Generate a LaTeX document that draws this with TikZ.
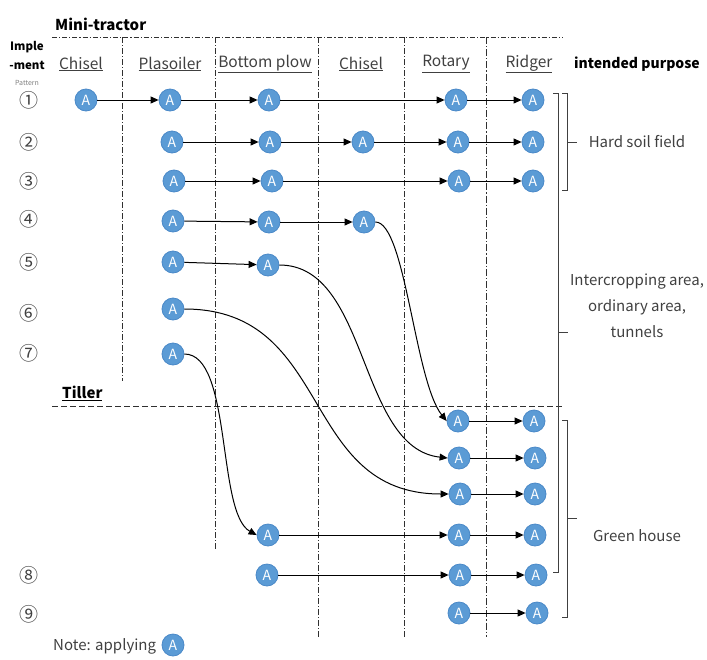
\documentclass[tikz,border=0pt]{standalone}
\usepackage{fontspec}
\setmainfont{Noto Sans CJK JP}
\usetikzlibrary{arrows.meta}

\definecolor{nodeblue}{HTML}{5B9BD5}
\definecolor{nodeedge}{HTML}{4A89C8}
\definecolor{txtgray}{HTML}{404040}
\definecolor{gridgray}{HTML}{303030}

\tikzset{
  app/.style={circle, fill=nodeblue, draw=nodeedge, line width=0.8pt,
    minimum size=22pt, inner sep=0pt, text=white,
    font=\fontsize{14}{14}\selectfont},
  flow/.style={-{Triangle[length=8pt,width=7pt]}, line width=1pt, black},
  colhead/.style={text=txtgray, font=\fontsize{15.5}{18}\selectfont, inner sep=0pt},
  boldhead/.style={text=black, font=\fontsize{15}{18}\selectfont\bfseries, inner sep=0pt},
  rownum/.style={text=txtgray, font=\fontsize{19}{20}\selectfont, inner sep=0pt},
  purpose/.style={text=txtgray, font=\fontsize{15}{26}\selectfont, align=center, inner sep=0pt},
  colsep/.style={gridgray, line width=0.6pt, dash pattern=on 6pt off 2pt on 1pt off 2pt},
  colsepheavy/.style={gridgray, line width=0.9pt, dash pattern=on 7pt off 2pt on 1.2pt off 2pt},
  toprule/.style={gridgray, line width=1pt, dash pattern=on 5pt off 2pt on 1.2pt off 2pt},
  tillerrule/.style={gridgray, line width=1pt, dash pattern=on 6pt off 3pt},
  bracket/.style={txtgray, line width=1pt},
}

\begin{document}
\begin{tikzpicture}[x=1pt, y=-1pt]
\useasboundingbox (0,0) rectangle (707,659);

% ---- section rules and column separators ----
\draw[toprule] (52,37) -- (563,37);
\draw[tillerrule] (52,406) -- (563,406);
\draw[colsep] (122,37) -- (122,381);
\draw[colsep] (215,37) -- (215,549);
\draw[colsep] (318,37) -- (318,637);
\draw[colsep] (404,37) -- (404,637);
\draw[colsepheavy] (486,37) -- (486,637);

% ---- headings ----
\node[boldhead, anchor=west] (mini) at (55,24) {Mini-tractor};
\node[boldhead, anchor=west] (tiller) at (62,393) {\underline{Tiller}};
\node[text=black, font=\fontsize{11.5}{13}\selectfont\bfseries, inner sep=0pt] (imp1) at (27,47) {Imple};
\node[text=black, font=\fontsize{11.5}{13}\selectfont\bfseries, inner sep=0pt] (imp2) at (27,65) {-ment};
\node[text=gray, font=\fontsize{7}{8}\selectfont, inner sep=0pt] (pat) at (27,83) {Pattern};

\node[colhead] (hc1) at (81,64) {\underline{Chisel}};
\node[colhead] (hc2) at (170,64) {\underline{Plasoiler}};
\node[colhead] (hc3) at (265,64) {\underline{Bottom plow}};
\node[colhead] (hc4) at (361,64) {\underline{Chisel}};
\node[colhead] (hc5) at (446,64) {\underline{Rotary}};
\node[colhead] (hc6) at (529,64) {\underline{Ridger}};
\node[boldhead, font=\fontsize{14}{18}\selectfont\bfseries] (hpur) at (637,64) {intended purpose};

% ---- pattern numbers ----
\node[rownum] (p1) at (29,100) {①};
\node[rownum] (p2) at (29,142) {②};
\node[rownum] (p3) at (29,181) {③};
\node[rownum] (p4) at (29,219) {④};
\node[rownum] (p5) at (29,262) {⑤};
\node[rownum] (p6) at (29,313) {⑥};
\node[rownum] (p7) at (29,353) {⑦};
\node[rownum] (p8) at (29,575) {⑧};
\node[rownum] (p9) at (29,614) {⑨};

% ---- implement applications ----
\node[app] (a1) at (86,100) {A};
\node[app] (a2) at (170,100) {A};
\node[app] (a3) at (269,100) {A};
\node[app] (a4) at (456,100) {A};
\node[app] (a5) at (533,100) {A};

\node[app] (b1) at (172,142) {A};
\node[app] (b2) at (270,142) {A};
\node[app] (b3) at (363,142) {A};
\node[app] (b4) at (458,142) {A};
\node[app] (b5) at (533,142) {A};

\node[app] (c1) at (174,181) {A};
\node[app] (c2) at (272,181) {A};
\node[app] (c3) at (459,181) {A};
\node[app] (c4) at (533,181) {A};

\node[app] (d1) at (173,221) {A};
\node[app] (d2) at (269,222) {A};
\node[app] (d3) at (364,222) {A};
\node[app] (d4) at (458,421) {A};
\node[app] (d5) at (534,421) {A};

\node[app] (e1) at (173,262) {A};
\node[app] (e2) at (268,265) {A};
\node[app] (e3) at (459,458) {A};
\node[app] (e4) at (535,458) {A};

\node[app] (f1) at (173,309) {A};
\node[app] (f2) at (460,494) {A};
\node[app] (f3) at (535,494) {A};

\node[app] (g1) at (173,354) {A};
\node[app] (g2) at (268,535) {A};
\node[app] (g3) at (459,535) {A};
\node[app] (g4) at (535,535) {A};

\node[app] (h1) at (267,575) {A};
\node[app] (h2) at (460,575) {A};
\node[app] (h3) at (536,575) {A};

\node[app] (i1) at (459,613) {A};
\node[app] (i2) at (537,613) {A};

% ---- sequences ----
\draw[flow] (a1) -- (a2);
\draw[flow] (a2) -- (a3);
\draw[flow] (a3) -- (a4);
\draw[flow] (a4) -- (a5);

\draw[flow] (b1) -- (b2);
\draw[flow] (b2) -- (b3);
\draw[flow] (b3) -- (b4);
\draw[flow] (b4) -- (b5);

\draw[flow] (c1) -- (c2);
\draw[flow] (c2) -- (c3);
\draw[flow] (c3) -- (c4);

\draw[flow] (d1) -- (d2);
\draw[flow] (d2) -- (d3);
\draw[flow] (d3.east) .. controls +(30,0) and +(-32,-40) .. (d4.west);
\draw[flow] (d4) -- (d5);

\draw[flow] (e1) -- (e2);
\draw[flow] (e2.east) .. controls +(90,0) and +(-90,-10) .. (e3.west);
\draw[flow] (e3) -- (e4);

\draw[flow] (f1.east) .. controls +(150,0) and +(-150,0) .. (f2.west);
\draw[flow] (f2) -- (f3);

\draw[flow] (g1.east) .. controls +(48,0) and +(-40,-22) .. (g2.west);
\draw[flow] (g2) -- (g3);
\draw[flow] (g3) -- (g4);

\draw[flow] (h1) -- (h2);
\draw[flow] (h2) -- (h3);

\draw[flow] (i1) -- (i2);

% ---- intended purpose brackets ----
\draw[bracket] (562,93) -- (567,93) -- (567,190) -- (562,190);
\draw[bracket] (567,142) -- (577,142);
\draw[bracket] (553,93) -- (558,93) -- (558,572) -- (553,572);
\draw[bracket] (558,332) -- (568,332);
\draw[bracket] (562,420) -- (567,420) -- (567,617) -- (562,617);
\draw[bracket] (567,518) -- (577,518);

\node[purpose] (hard) at (637,142) {Hard soil field};
\node[purpose] (inter) at (637,306) {Intercropping area,\\ordinary area,\\tunnels};
\node[purpose] (green) at (637,536) {Green house};

% ---- note ----
\node[text=txtgray, font=\fontsize{15}{18}\selectfont, inner sep=0pt, anchor=west] (note) at (53,646) {Note: applying};
\node[app] (noteA) at (173,645) {A};
\end{tikzpicture}
\end{document}
